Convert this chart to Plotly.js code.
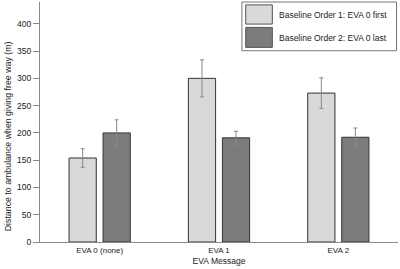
<!DOCTYPE html>
<html>
<head>
<meta charset="utf-8">
<script src="https://cdn.plot.ly/plotly-3.0.1.min.js"></script>
<style>html,body{margin:0;padding:0;background:#fff;}#chart{width:400px;height:269px;}</style>
</head>
<body>
<div id="chart"></div>
<script>
const categories = ["EVA 0 (none)", "EVA 1", "EVA 2"];
const seriesNames = ["Baseline Order 1: EVA 0 first", "Baseline Order 2: EVA 0 last"];
const order1Values = [154, 300, 273];
const order1Errors = [17, 34, 28];
const order2Values = [200, 191, 192];
const order2Errors = [24, 12, 17];
const yTickValues = [0, 50, 100, 150, 200, 250, 300, 350, 400];

const FONT = "Liberation Sans, Arial, sans-serif";
const colors = ["#d9d9d9", "#7c7c7c"];

function barTrace(name, vals, errs, color) {
  return {
    type: "bar", name: name, x: categories, y: vals,
    marker: {color: color, line: {color: "#333", width: 1}},
    error_y: {type: "data", array: errs, visible: true, color: "#888", thickness: 1, width: 2}
  };
}

const data = [
  barTrace(seriesNames[0], order1Values, order1Errors, colors[0]),
  barTrace(seriesNames[1], order2Values, order2Errors, colors[1])
];

const shapes = [
  {type: "rect", xref: "paper", yref: "paper", x0: 0.564, x1: 0.996, y0: 0.797, y1: 1.0,
   line: {color: "#777", width: 1}, fillcolor: "#fff"},
  {type: "rect", xref: "paper", yref: "paper", x0: 0.5746, x1: 0.649, y0: 0.908, y1: 0.988,
   line: {color: "#555", width: 1}, fillcolor: colors[0]},
  {type: "rect", xref: "paper", yref: "paper", x0: 0.5746, x1: 0.649, y0: 0.811, y1: 0.894,
   line: {color: "#555", width: 1}, fillcolor: colors[1]}
];

const annotations = [
  {xref: "paper", yref: "paper", x: 0.663, y: 0.946, xanchor: "left", yanchor: "middle",
   text: seriesNames[0], showarrow: false, font: {family: FONT, size: 8.5, color: "#222"}},
  {xref: "paper", yref: "paper", x: 0.663, y: 0.852, xanchor: "left", yanchor: "middle",
   text: seriesNames[1], showarrow: false, font: {family: FONT, size: 8.5, color: "#222"}},
  {xref: "paper", yref: "paper", x: -0.089, y: 0.441, xanchor: "center", yanchor: "middle",
   textangle: -90, text: "Distance to ambulance when giving free way (m)", showarrow: false,
   font: {family: FONT, size: 8.8, color: "#222"}}
];

const layout = {
  width: 400, height: 269,
  margin: {l: 40, r: 2, t: 2, b: 27, pad: 0},
  paper_bgcolor: "#fff", plot_bgcolor: "#fff",
  font: {family: FONT, size: 8, color: "#222"},
  barmode: "group", bargap: 0.43, bargroupgap: 0.2,
  showlegend: false,
  xaxis: {
    type: "category", range: [-0.5, 2.5], showline: true, linecolor: "#888", linewidth: 1,
    ticks: "", showgrid: false, zeroline: false,
    tickfont: {family: FONT, size: 8, color: "#222"},
    title: {text: "EVA Message", font: {family: FONT, size: 8.5, color: "#222"}, standoff: 4},
    automargin: false
  },
  yaxis: {
    range: [0, 440], tickvals: yTickValues, ticktext: yTickValues.map(String),
    showline: true, linecolor: "#888", linewidth: 1, ticks: "outside", ticklen: 6,
    tickcolor: "#888", showgrid: false, zeroline: false,
    tickfont: {family: FONT, size: 8.5, color: "#222"},
    automargin: false
  },
  shapes: shapes,
  annotations: annotations
};

Plotly.newPlot("chart", data, layout, {displayModeBar: false, staticPlot: true});
</script>
</body>
</html>
